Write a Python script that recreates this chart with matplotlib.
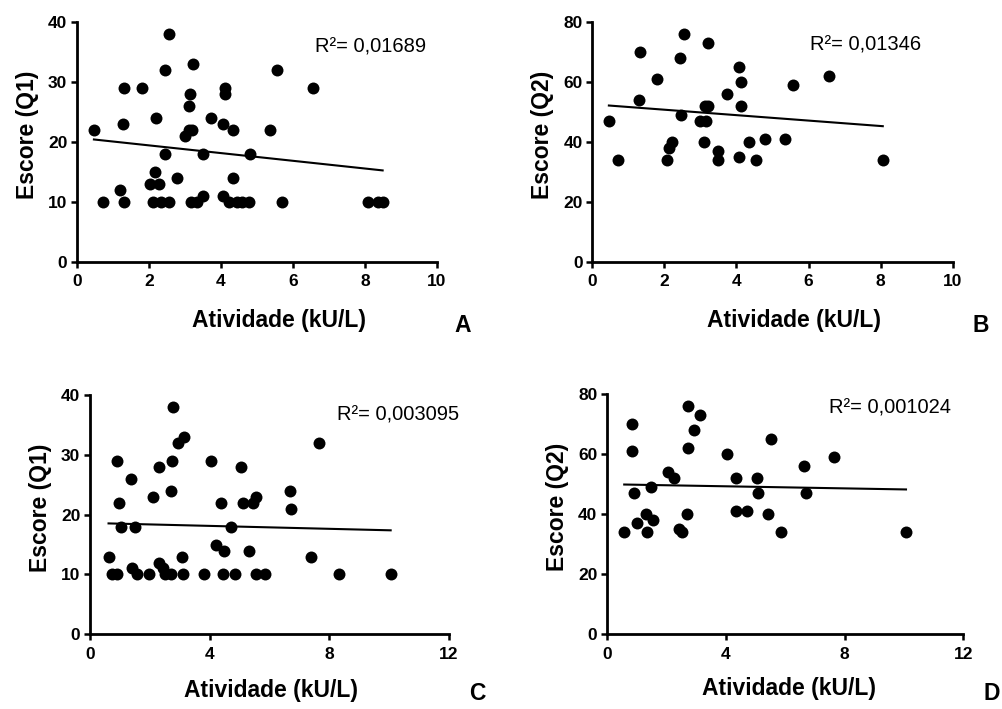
import matplotlib
matplotlib.use("Agg")
import matplotlib.pyplot as plt
import numpy as np

plt.rcParams["font.family"] = ["Liberation Sans", "DejaVu Sans"]

W, H = 1002, 709

# panel A: atividade vs escore Q1
act_a = [0.47, 0.73, 1.19, 1.31, 1.29, 1.31, 1.80, 2.19, 2.16, 2.03, 2.29, 2.12, 2.33, 2.55,
         2.45, 2.44, 2.55, 2.79, 2.99, 3.10, 3.19, 3.10, 3.14, 3.21, 3.16, 3.32, 3.49, 3.49,
         3.73, 4.06, 4.10, 4.10, 4.06, 4.21, 4.44, 4.57, 4.79, 4.34, 4.34, 4.81, 5.35, 5.56,
         6.56, 5.70, 8.07, 8.37, 8.49]
score_a = [22, 10, 12, 10, 23, 29, 29, 24, 15, 13, 13, 10, 10, 10,
           18, 32, 38, 14, 21, 22, 22, 26, 28, 33, 10, 10, 11, 18,
           24, 23, 29, 28, 11, 10, 10, 10, 10, 22, 14, 18, 22, 32,
           29, 10, 10, 10, 10]

# panel B: atividade vs escore Q2
act_b = [0.46, 0.72, 1.32, 1.30, 1.80, 2.06, 2.13, 2.20, 2.44, 2.54, 2.46, 3.00, 3.15, 3.13,
         3.20, 3.22, 3.11, 3.50, 3.50, 3.74, 4.06, 4.13, 4.13, 4.07, 4.35, 4.54, 4.80, 5.35,
         5.56, 6.57, 8.06]
score_b = [47, 34, 70, 54, 61, 34, 38, 40, 68, 76, 49, 47, 47, 52,
           52, 73, 40, 37, 34, 56, 65, 60, 52, 35, 40, 34, 41, 41,
           59, 62, 34]

# panel C
act_c = [0.62, 0.72, 0.91, 0.89, 0.98, 1.03, 1.50, 1.36, 1.39, 1.58, 1.96, 2.10, 2.29, 2.31,
         2.43, 2.52, 2.72, 2.70, 2.74, 2.76, 2.95, 3.15, 3.07, 3.10, 3.81, 4.06, 4.21, 4.48,
         4.37, 4.46, 4.72, 4.85, 5.06, 5.11, 5.44, 5.55, 5.31, 5.55, 5.86, 7.65, 6.67, 6.71,
         7.38, 8.32, 10.05]
score_c = [13, 10, 10, 29, 22, 18, 18, 26, 11, 10, 10, 23, 28, 12,
           11, 10, 10, 24, 29, 38, 32, 33, 13, 10, 10, 29, 15, 14,
           22, 10, 18, 10, 28, 22, 22, 23, 14, 10, 10, 32, 24, 21,
           13, 10, 10]

# panel D
act_d = [0.58, 0.83, 0.85, 0.92, 1.00, 1.30, 1.34, 1.48, 1.56, 2.07, 2.27, 2.42, 2.54, 2.68,
         2.74, 2.74, 2.92, 3.13, 4.04, 4.33, 4.35, 4.70, 5.04, 5.10, 5.41, 5.52, 5.86, 6.63,
         7.64, 6.70, 10.07]
score_d = [34, 70, 61, 47, 37, 40, 34, 49, 38, 54, 52, 35, 34, 40,
           76, 62, 68, 73, 60, 52, 41, 41, 52, 47, 40, 65, 34, 56,
           59, 47, 34]

r2_labels = ["R\u00b2= 0,01689", "R\u00b2= 0,01346", "R\u00b2= 0,003095", "R\u00b2= 0,001024"]
ylabels = ["Escore (Q1)", "Escore (Q2)", "Escore (Q1)", "Escore (Q2)"]
letters = ["A", "B", "C", "D"]


def add_axes_px(fig, left, right, top, bottom):
    return fig.add_axes([left / W, 1 - bottom / H, (right - left) / W, (bottom - top) / H])


def scatter_panel(ax, x, y, xmax, xstep, ymax, ystep, ylabel, r2_text, r2_pos, xlab_pos):
    x = np.asarray(x)
    y = np.asarray(y)
    ax.plot(x, y, "o", color="black", ms=8.6, mew=0, clip_on=False, zorder=3)

    slope, intercept = np.polyfit(x, y, 1)
    xs = np.array([x.min(), x.max()])
    ax.plot(xs, slope * xs + intercept, color="black", lw=1.5, zorder=2)

    ax.set_xlim(0, xmax)
    ax.set_ylim(0, ymax)
    ax.set_xticks(np.arange(0, xmax + 0.1, xstep))
    ax.set_yticks(np.arange(0, ymax + 0.1, ystep))
    for side in ("top", "right"):
        ax.spines[side].set_visible(False)
    for side in ("left", "bottom"):
        ax.spines[side].set_linewidth(2.0)
    ax.tick_params(width=1.8, length=4.5, labelsize=12.5)
    ax.tick_params(axis="y", pad=2.5)
    ax.tick_params(axis="x", pad=4.5)
    for lab in ax.get_xticklabels() + ax.get_yticklabels():
        lab.set_fontweight("bold")

    ax.set_xlabel("Atividade (kU/L)", fontsize=16.5, fontweight="bold")
    ax.set_ylabel(ylabel, fontsize=16.5, fontweight="bold")
    ax.xaxis.set_label_coords(*xlab_pos)
    ax.yaxis.set_label_coords(-0.106, 0.53)

    ax.text(r2_pos[0], r2_pos[1], r2_text, transform=ax.transAxes,
            fontsize=14.5, ha="left", va="center")


def main() -> None:
    fig = plt.figure(figsize=(W / 100, H / 100), dpi=100)

    ax_a = add_axes_px(fig, 77, 437, 21.7, 261.7)
    ax_b = add_axes_px(fig, 592.3, 952.7, 21.7, 261.7)
    ax_c = add_axes_px(fig, 90, 449, 395, 634.3)
    ax_d = add_axes_px(fig, 607, 963.3, 394.3, 634.3)

    scatter_panel(ax_a, act_a, score_a, 10, 2, 40, 10, ylabels[0], r2_labels[0],
                  (0.66, 0.895), (0.56, -0.197))
    scatter_panel(ax_b, act_b, score_b, 10, 2, 80, 20, ylabels[1], r2_labels[1],
                  (0.605, 0.903), (0.56, -0.197))
    scatter_panel(ax_c, act_c, score_c, 12, 4, 40, 10, ylabels[2], r2_labels[2],
                  (0.687, 0.917), (0.505, -0.185))
    scatter_panel(ax_d, act_d, score_d, 12, 4, 80, 20, ylabels[3], r2_labels[3],
                  (0.623, 0.942), (0.51, -0.18))

    letter_pos = [(463, 326), (981, 326), (477, 694), (992, 693)]
    for letter, (px, py) in zip(letters, letter_pos):
        fig.text(px / W, 1 - py / H, letter, fontsize=16.5, fontweight="bold",
                 ha="center", va="center")

    fig.savefig("out.png", dpi=100)
    plt.close(fig)


if __name__ == "__main__":
    main()
